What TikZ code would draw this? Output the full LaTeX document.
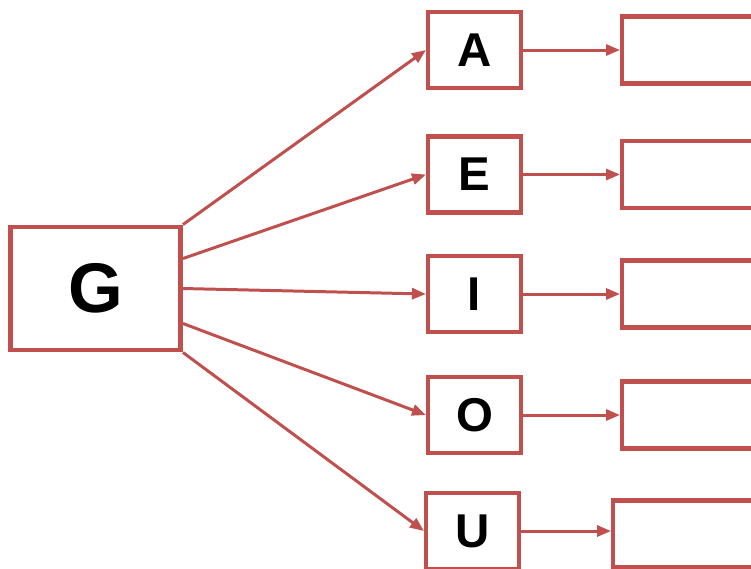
\documentclass[tikz,border=0pt]{standalone}
\usepackage{fontspec}
\setmainfont{Liberation Sans}
\usetikzlibrary{positioning,arrows.meta}
\definecolor{boxred}{RGB}{192,80,77}
\begin{document}
\begin{tikzpicture}[
  bigbox/.style={draw=boxred, line width=2.8pt, minimum width=3.4cm, minimum height=2.46cm,
              inner sep=0pt, font=\fontsize{40}{40}\selectfont\bfseries},
  box/.style={draw=boxred, line width=2.3pt, minimum width=1.86cm, minimum height=1.52cm,
              inner sep=0pt, font=\fontsize{27}{27}\selectfont\bfseries},
  blank/.style={draw=boxred, line width=2.3pt, minimum width=3.4cm, minimum height=1.34cm,
              inner sep=0pt},
  arr/.style={-{Triangle[length=0.28cm, width=0.22cm]}, draw=boxred, fill=boxred, line width=1.7pt}
]
  \clip (0,0) rectangle (15.02,-11.36);
  \node[bigbox] (g) at (1.91,-5.77) {G};
  \node[box] (a) at (9.49,-1.0)  {A};
  \node[box] (e) at (9.49,-3.49) {E};
  \node[box] (i) at (9.49,-5.88) {I};
  \node[box] (o) at (9.49,-8.30) {O};
  \node[box] (u) at (9.45,-10.62) {U};
  % empty boxes on the right
  \node[blank, right=1.94cm of a] (ra) {};
  \node[blank, right=1.94cm of e] (re) {};
  \node[blank, right=1.94cm of i] (ri) {};
  \node[blank, right=1.94cm of o] (ro) {};
  \node[blank, right=1.80cm of u, yshift=-0.06cm] (ru) {};
  % from G to the vowels
  \draw[arr] (g.north east) -- (a.west);
  \draw[arr] ([yshift=0.6cm]g.east) -- (e.west);
  \draw[arr] (g.east) -- (i.west);
  \draw[arr] ([yshift=-0.7cm]g.east) -- (o.west);
  \draw[arr] (g.south east) -- (u.west);
  % vowels to the empty boxes
  \draw[arr] (a) -- (ra);
  \draw[arr] (e) -- (re);
  \draw[arr] (i) -- (ri);
  \draw[arr] (o) -- (ro);
  \draw[arr] (u) -- (ru.west |- u);
\end{tikzpicture}
\end{document}
